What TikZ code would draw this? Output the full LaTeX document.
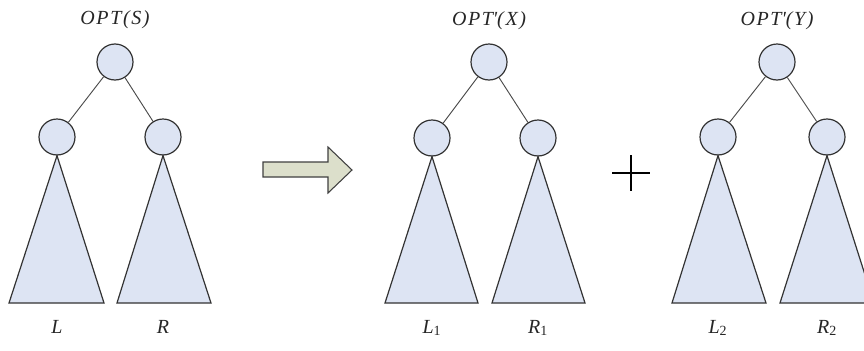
\documentclass[tikz,border=0pt]{standalone}
\usepackage{fontspec}
\setmainfont{Liberation Serif}
\begin{document}
\begin{tikzpicture}[x=0.75pt,y=-0.75pt,
  nd/.style={circle,draw=black!80,fill=bluefill,line width=0.9pt,minimum size=27pt,inner sep=0pt},
  edge/.style={draw=black!70,line width=0.7pt},
  tri/.style={draw=black!80,fill=bluefill,line width=0.9pt,line join=miter},
  lbl/.style={font=\fontsize{15}{17}\selectfont\itshape\addfontfeature{LetterSpace=8},inner sep=0pt,text=black!85}]
\definecolor{bluefill}{HTML}{DDE4F3}
\definecolor{arrowfill}{HTML}{DCDFCB}
\useasboundingbox (0,0) rectangle (864,350);
\clip (0,0) rectangle (864,350);
\fill[white] (0,0) rectangle (864,350);
% Tree 1
\node[lbl] (t1) at (115,20) {OPT(S)};
\node[nd] (r1) at (115,62) {};
\node[nd] (a1) at (57,137) {};
\node[nd] (b1) at (163,137) {};
\draw[edge] (r1) -- (a1);
\draw[edge] (r1) -- (b1);
\draw[tri] (a1.south) -- (104,303) -- (9,303) -- cycle;
\draw[tri] (b1.south) -- (211,303) -- (117,303) -- cycle;
\node[lbl] (l1) at (57,327) {L};
\node[lbl] (rr1) at (163,327) {R};
% Arrow
\draw[draw=black!75,fill=arrowfill,line width=0.8pt,line join=miter]
  (263,162) -- (328,162) -- (328,147) -- (352,170) -- (328,193) -- (328,177) -- (263,177) -- cycle;
% Tree 2
\node[lbl] (t2) at (489,21) {OPT\textquotesingle(X)};
\node[nd] (r2) at (489,62) {};
\node[nd] (a2) at (432,138) {};
\node[nd] (b2) at (538,138) {};
\draw[edge] (r2) -- (a2);
\draw[edge] (r2) -- (b2);
\draw[tri] (a2.south) -- (478,303) -- (385,303) -- cycle;
\draw[tri] (b2.south) -- (585,303) -- (492,303) -- cycle;
\node[lbl] (l2) at (432,328) {L\textsubscript{\upshape 1}};
\node[lbl] (rr2) at (538,328) {R\textsubscript{\upshape 1}};
% Plus
\draw[line width=1.5pt] (612,173) -- (650,173);
\draw[line width=1.5pt] (631,155) -- (631,191);
% Tree 3
\node[lbl] (t3) at (777,21) {OPT\textquotesingle(Y)};
\node[nd] (r3) at (777,62) {};
\node[nd] (a3) at (718,137) {};
\node[nd] (b3) at (827,137) {};
\draw[edge] (r3) -- (a3);
\draw[edge] (r3) -- (b3);
\draw[tri] (a3.south) -- (766,303) -- (672,303) -- cycle;
\draw[tri] (b3.south) -- (874,303) -- (780,303) -- cycle;
\node[lbl] (l3) at (718,328) {L\textsubscript{\upshape 2}};
\node[lbl] (rr3) at (827,328) {R\textsubscript{\upshape 2}};
\end{tikzpicture}
\end{document}
